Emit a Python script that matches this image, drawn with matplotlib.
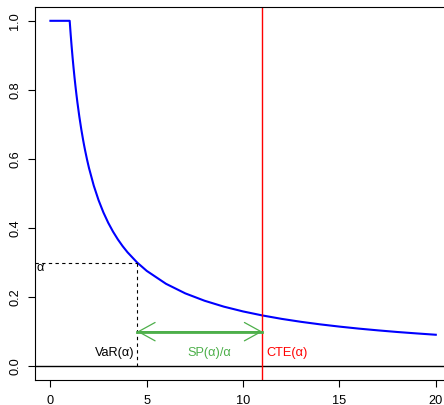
import matplotlib
matplotlib.use("Agg")
import matplotlib.pyplot as plt

plt.rcParams['font.family'] = ['Liberation Sans', 'DejaVu Sans']

# survival curve
curve_x = [0.0, 1.0, 1.05, 1.1, 1.15, 1.2, 1.25, 1.3, 1.35, 1.4, 1.5, 1.6, 1.7, 1.75,
           1.8, 1.9, 2.0, 2.25, 2.5, 2.75, 3.0, 3.25, 3.5, 3.75, 4.0, 4.5, 5, 6, 7,
           8, 9, 10, 11, 12, 13, 14, 15, 16, 17, 18, 19, 20]
curve_y = [1.0, 1.0, 0.9617, 0.9266, 0.8942, 0.8643, 0.8365, 0.8107, 0.7866, 0.7640,
           0.7230, 0.6866, 0.6541, 0.6391, 0.6249, 0.5984, 0.5743, 0.5227, 0.4805,
           0.4452, 0.4152, 0.3895, 0.3671, 0.3474, 0.3299, 0.3002, 0.2759, 0.2385,
           0.2108, 0.1895, 0.1724, 0.1585, 0.1469, 0.1370, 0.1285, 0.1211, 0.1146,
           0.1088, 0.1037, 0.0990, 0.0949, 0.0910]

alpha = 0.3
var_alpha = 4.5
cte_alpha = 11.0
arrow_y = 0.1

x_ticks = [0, 5, 10, 15, 20]
y_ticks = [0.0, 0.2, 0.4, 0.6, 0.8, 1.0]
y_ticklabels = ["0.0", "0.2", "0.4", "0.6", "0.8", "1.0"]

fig = plt.figure(figsize=(4.44, 4.05), dpi=100)
ax = fig.add_axes([35/444, 25/405, 416.2/444, 373/405])
ax.set_xlim(-0.8, 20.8)
ax.set_ylim(-0.04, 1.04)

ax.plot(curve_x, curve_y, color='#0000FF', lw=1.5, solid_joinstyle='round')
ax.axhline(0, color='black', lw=1)
ax.axvline(cte_alpha, color='#FF0000', lw=1)

ax.plot([-0.8, var_alpha], [alpha, alpha], color='black', lw=0.8, ls=(0, (3, 3)))
ax.plot([var_alpha, var_alpha], [alpha, 0], color='black', lw=0.8, ls=(0, (3, 3)))

ax.plot([var_alpha, cte_alpha], [arrow_y, arrow_y], color='#4DAF4A', lw=2)
ax.annotate('', xy=(var_alpha, arrow_y), xytext=(cte_alpha, arrow_y),
            arrowprops=dict(arrowstyle='<->,head_length=1.2,head_width=0.66',
                            color='#4DAF4A', lw=0.9, shrinkA=0, shrinkB=0,
                            mutation_scale=10))

fs = 9.2
ax.text(-0.73, 0.283, 'α', fontsize=fs, ha='left', va='center')
ax.text(4.37, 0.038, 'VaR(α)', fontsize=fs, ha='right', va='center')
ax.text(8.24, 0.038, 'SP(α)/α', fontsize=fs, ha='center', va='center', color='#4DAF4A')
ax.text(11.2, 0.038, 'CTE(α)', fontsize=fs, ha='left', va='center', color='#FF0000')

ax.set_xticks(x_ticks)
ax.set_xticklabels([str(t) for t in x_ticks])
ax.set_yticks(y_ticks)
ax.set_yticklabels(y_ticklabels, rotation=90, va='center')
ax.tick_params(axis='both', direction='out', length=5, width=0.8, labelsize=fs)
ax.tick_params(axis='y', pad=5)
ax.tick_params(axis='x', pad=6)
for s in ax.spines.values():
    s.set_linewidth(0.8)

fig.savefig('out.png', dpi=100)
